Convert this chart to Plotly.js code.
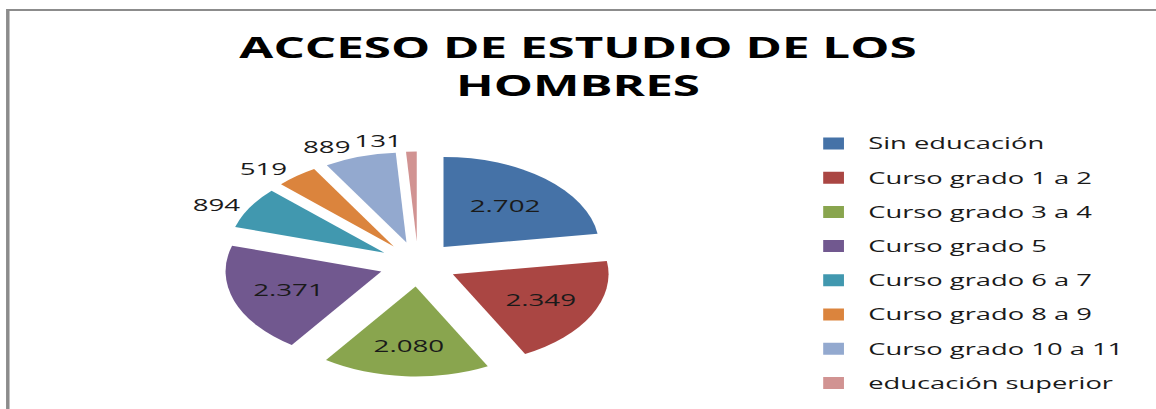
<!DOCTYPE html>
<html>
<head>
<meta charset="utf-8">
<script src="https://cdn.plot.ly/plotly-3.0.1.min.js"></script>
<style>
  html, body { margin: 0; padding: 0; width: 1156px; height: 409px; overflow: hidden; background: #ffffff; }
  #wrap { width: 668px; height: 409px; transform: scaleX(1.7305); transform-origin: 0 0; }
</style>
</head>
<body>
<div id="wrap"><div id="chart"></div></div>
<script>
const chartTitle = "ACCESO DE ESTUDIO DE LOS<br>HOMBRES";
const categories = ["Sin educación", "Curso grado 1 a 2", "Curso grado 3 a 4", "Curso grado 5",
                    "Curso grado 6 a 7", "Curso grado 8 a 9", "Curso grado 10 a 11", "educación superior"];
const values = [2702, 2349, 2080, 2371, 894, 519, 889, 131];
const colors = ["#4572A7", "#AA4643", "#89A54E", "#71588F", "#4198AF", "#DB843D", "#93A9CF", "#D19392"];
const labelPositions = ["inside", "inside", "inside", "inside", "outside", "outside", "outside", "outside"];

const W = 668, H = 409;
const FONT = "'Open Sans', 'Noto Sans', sans-serif";

const legendLabels = categories.map(c => '<span style="font-size:15.8px;baseline-shift:3.5px">' + c + '</span>');
const valueText = values.map(v => v.toLocaleString('de-DE'));

// Outside labels are split over two identical pies so that neighbouring
// outside labels keep their natural place (as in the original chart).
let outsideCount = 0;
const layerOf = labelPositions.map(p => p === 'outside' ? (outsideCount++ % 2) : 0);

const domain = { x: [(241.6 - 112.5) / W, (241.6 + 112.5) / W], y: [(H - 376.5) / H, (H - 151.5) / H] };
const textFont = { family: FONT, size: 16, color: '#1a1a1a' };

const pieMain = {
  type: 'pie',
  labels: legendLabels,
  values: values,
  text: valueText.map((t, i) => layerOf[i] === 0 ? t : ''),
  textinfo: 'text',
  textposition: labelPositions.map((p, i) => layerOf[i] === 0 ? p : 'none'),
  insidetextorientation: 'horizontal',
  sort: false,
  direction: 'clockwise',
  rotation: 0,
  pull: 0.25,
  marker: { colors: colors, line: { width: 0 } },
  textfont: textFont, insidetextfont: textFont, outsidetextfont: textFont,
  hoverinfo: 'skip',
  domain: domain
};

const pieLabels = {
  type: 'pie',
  labels: legendLabels,
  values: values,
  text: valueText.map((t, i) => layerOf[i] === 1 ? t : ''),
  textinfo: 'text',
  textposition: labelPositions.map((p, i) => layerOf[i] === 1 ? p : 'none'),
  sort: false,
  direction: 'clockwise',
  rotation: 0,
  pull: 0.25,
  marker: { colors: values.map(() => 'rgba(0,0,0,0)'), line: { width: 0 } },
  textfont: textFont, outsidetextfont: textFont,
  hoverinfo: 'skip',
  showlegend: false,
  domain: domain
};

const layout = {
  width: W, height: H,
  margin: { l: 0, r: 0, t: 0, b: 0 },
  paper_bgcolor: '#ffffff',
  font: { family: FONT, color: '#1a1a1a' },
  title: {
    text: chartTitle,
    font: { family: FONT, size: 28.5, color: '#000000', weight: 'bold' },
    x: 0.5, xanchor: 'center', xref: 'paper',
    y: 0.857, yanchor: 'top', yref: 'container'
  },
  showlegend: true,
  legend: {
    x: 461.7 / W, xanchor: 'left',
    y: 1 - 121.4 / H, yanchor: 'top',
    font: { family: FONT, size: 24, color: '#1a1a1a' },
    bgcolor: 'rgba(0,0,0,0)', borderwidth: 0
  },
  shapes: [{
    type: 'rect', xref: 'paper', yref: 'paper',
    x0: 4.5 / W, x1: 1.02, y0: -0.02, y1: 1 - 10 / H,
    line: { color: '#8c8c8c', width: 2 }, fillcolor: 'rgba(0,0,0,0)', layer: 'below'
  }]
};

Plotly.newPlot('chart', [pieMain, pieLabels], layout, { displayModeBar: false, staticPlot: true });
</script>
</body>
</html>
